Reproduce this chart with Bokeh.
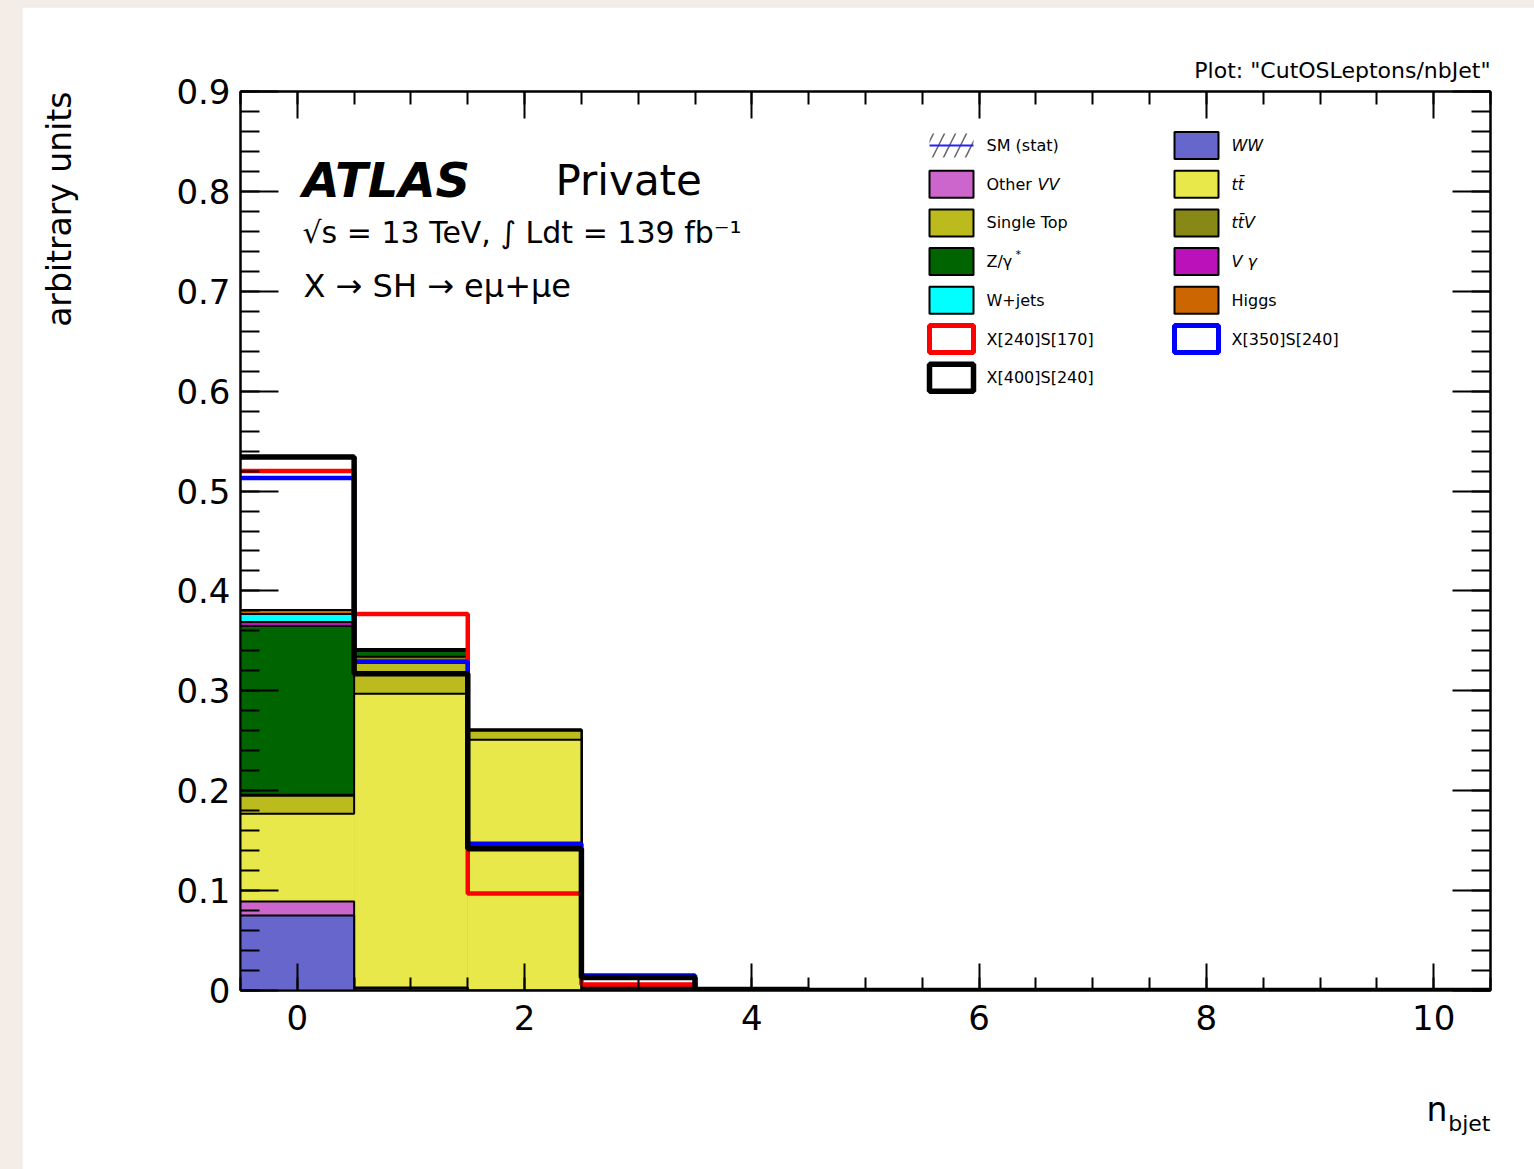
import numpy as np
from bokeh.plotting import figure
from bokeh.models import (Range1d, FixedTicker, LinearAxis, Label, Title,
                          CustomJSTickFormatter, Spacer)
from bokeh.layouts import column, row
from bokeh.embed import file_html
from bokeh.resources import INLINE

# number of b-tagged jets, one bin per integer
nbjet = list(range(11))

# SM backgrounds (normalised, arbitrary units), stacked bottom to top
ww         = [0.075, 0.002, 0.000, 0.000, 0, 0, 0, 0, 0, 0, 0]
other_vv   = [0.014, 0.001, 0.000, 0.000, 0, 0, 0, 0, 0, 0, 0]
ttbar      = [0.088, 0.294, 0.251, 0.002, 0, 0, 0, 0, 0, 0, 0]
single_top = [0.018, 0.033, 0.009, 0.001, 0, 0, 0, 0, 0, 0, 0]
ttv        = [0.001, 0.004, 0.001, 0.000, 0, 0, 0, 0, 0, 0, 0]
z_gamma    = [0.169, 0.006, 0.000, 0.000, 0, 0, 0, 0, 0, 0, 0]
v_gamma    = [0.004, 0.001, 0.000, 0.000, 0, 0, 0, 0, 0, 0, 0]
w_jets     = [0.008, 0.000, 0.000, 0.000, 0, 0, 0, 0, 0, 0, 0]
higgs      = [0.004, 0.001, 0.000, 0.000, 0, 0, 0, 0, 0, 0, 0]

# signal hypotheses (normalised)
sig_x240_s170 = [0.520, 0.377, 0.097, 0.006, 0.000, 0, 0, 0, 0, 0, 0]
sig_x350_s240 = [0.513, 0.329, 0.147, 0.015, 0.001, 0, 0, 0, 0, 0, 0]
sig_x400_s240 = [0.534, 0.317, 0.142, 0.013, 0.001, 0, 0, 0, 0, 0, 0]

stack = [
    ("WW", ww, "#6666cc"),
    ("Other VV", other_vv, "#cc66cc"),
    ("ttbar", ttbar, "#e8e84a"),
    ("Single Top", single_top, "#bbbb1e"),
    ("ttV", ttv, "#888816"),
    ("Z/gamma*", z_gamma, "#006400"),
    ("V gamma", v_gamma, "#bb11bb"),
    ("W+jets", w_jets, "#00ffff"),
    ("Higgs", higgs, "#cc6600"),
]
signals = [
    ("X[240]S[170]", sig_x240_s170, "#ff0000", 4.5),
    ("X[350]S[240]", sig_x350_s240, "#0000ff", 4.5),
    ("X[400]S[240]", sig_x400_s240, "#000000", 5.5),
]

FONT = "DejaVu Sans"

p = figure(width=1512, height=1162,
           x_range=Range1d(-0.5, 10.5), y_range=Range1d(0, 0.9),
           output_backend="svg", toolbar_location=None,
           min_border_left=218, min_border_right=44,
           min_border_top=84, min_border_bottom=179)
p.xgrid.visible = False
p.ygrid.visible = False
p.background_fill_color = "white"
p.border_fill_color = "white"
p.outline_line_color = "black"
p.outline_line_width = 2

xticks = FixedTicker(ticks=list(range(0, 11, 2)),
                     minor_ticks=list(np.round(np.arange(-0.5, 10.51, 0.5), 2)))
yticks = FixedTicker(ticks=list(np.round(np.arange(0, 0.91, 0.1), 2)),
                     minor_ticks=list(np.round(np.arange(0, 0.901, 0.02), 3)))


def style_axis(ax, ticker, major_len, minor_len):
    ax.ticker = ticker
    ax.axis_line_color = "black"
    ax.axis_line_width = 2
    ax.major_tick_in = major_len
    ax.major_tick_out = 0
    ax.minor_tick_in = minor_len
    ax.minor_tick_out = 0
    ax.major_tick_line_width = 2
    ax.minor_tick_line_width = 2
    ax.major_tick_line_color = "black"
    ax.minor_tick_line_color = "black"
    ax.major_label_text_font = FONT
    ax.major_label_text_font_size = "34px"
    ax.major_label_text_color = "black"


def gap_axis(size):
    # a blank axis (white outward tick, no labels) that only reserves
    # room in a side panel between the tick labels and a title
    return LinearAxis(ticker=FixedTicker(ticks=[0], minor_ticks=[]),
                      formatter=CustomJSTickFormatter(code="return ''"),
                      major_tick_out=size, major_tick_in=0,
                      minor_tick_out=0, minor_tick_in=0,
                      major_label_standoff=0,
                      axis_line_color=None, major_tick_line_color="white",
                      minor_tick_line_color=None)


xax = p.xaxis[0]
yax = p.yaxis[0]
style_axis(xax, xticks, 27, 13)
xax.major_label_standoff = 14
style_axis(yax, yticks, 38, 19)
yax.major_label_standoff = 10
yax.major_label_overrides = {0: "0"}

top_ax = LinearAxis(formatter=CustomJSTickFormatter(code="return ''"))
style_axis(top_ax, xticks, 27, 13)
top_ax.major_label_text_font_size = "1px"
top_ax.major_label_standoff = 0
p.add_layout(top_ax, "above")
right_ax = LinearAxis(formatter=CustomJSTickFormatter(code="return ''"))
style_axis(right_ax, yticks, 38, 19)
right_ax.major_label_text_font_size = "1px"
right_ax.major_label_standoff = 0
p.add_layout(right_ax, "right")

# y-axis title, ending at the top of the frame
p.add_layout(gap_axis(95), "left")
p.add_layout(Title(text="arbitrary units", align="right", vertical_align="bottom",
                   text_font=FONT, text_font_size="33px", text_font_style="normal",
                   text_color="black", standoff=0), "left")

# plot name above the frame, right aligned
p.add_layout(Title(text='Plot: "CutOSLeptons/nbJet"', align="right",
                   vertical_align="bottom", text_font=FONT,
                   text_font_size="22px", text_font_style="normal",
                   text_color="black", standoff=18), "above")

# x-axis title n_bjet: "n" plus a lowered, smaller "bjet"
p.add_layout(gap_axis(57), "below")
p.add_layout(Title(text="n", align="right", vertical_align="top", offset=43,
                   text_font=FONT, text_font_size="33px", text_font_style="normal",
                   text_color="black", standoff=0), "below")
p.add_layout(Title(text="bjet", align="right", vertical_align="top", offset=0,
                   text_font=FONT, text_font_size="22px", text_font_style="normal",
                   text_color="black", standoff=-40), "below")


def step_path(vals):
    edges = np.arange(len(vals) + 1) - 0.5
    xs = np.repeat(edges, 2)[1:-1]
    ys = np.repeat(np.asarray(vals, dtype=float), 2)
    return xs, ys


edges = np.arange(len(nbjet) + 1) - 0.5
cums = np.cumsum(np.array([s[1] for s in stack], dtype=float), axis=0)

# draw the stack from the top layer down, each layer with its outline
for k in range(len(stack) - 1, -1, -1):
    name, vals, col = stack[k]
    top = cums[k]
    p.quad(left=edges[:-1], right=edges[1:], bottom=0, top=top,
           fill_color=col, line_color=None)
    xs, ys = step_path(top)
    p.line(xs, ys, line_color="black", line_width=2)

for name, vals, col, lw in signals:
    xs, ys = step_path(vals)
    p.line(xs, ys, line_color=col, line_width=lw)

# ---- helpers to place annotations inside the frame by page pixel ----
FL, FR, FT, FB = 240.0, 1490.0, 91.0, 990.0


def dx(xp):
    return -0.5 + (xp - FL) * 11.0 / (FR - FL)


def dy(yp):
    return 0.9 * (FB - yp) / (FB - FT)


def text(xp, yp, s, size, style="normal", align="left", baseline="middle"):
    p.add_layout(Label(x=dx(xp), y=dy(yp), text=s, text_font=FONT,
                       text_font_size=f"{size}px", text_font_style=style,
                       text_align=align, text_baseline=baseline,
                       text_color="black"))


# ---- legend ----
row_c = [145 + 38.7 * i for i in range(7)]
c1_box, c1_txt = (929, 973), 986
c2_box, c2_txt = (1174, 1218), 1231
half_h = 13.5


def legend_box(box, yc, fill, line, lw):
    p.quad(left=[dx(box[0])], right=[dx(box[1])],
           bottom=[dy(yc + half_h)], top=[dy(yc - half_h)],
           fill_color=fill, line_color=line, line_width=lw)


# SM (stat): hatched band with the blue central line
p.quad(left=[dx(c1_box[0])], right=[dx(c1_box[1])],
       bottom=[dy(row_c[0] + 12)], top=[dy(row_c[0] - 12)],
       fill_color=None, line_color=None,
       hatch_pattern="/", hatch_color="#666666", hatch_scale=22, hatch_weight=1.5)
p.line([dx(c1_box[0]), dx(c1_box[1])], [dy(row_c[0]), dy(row_c[0])],
       line_color="#2222ff", line_width=2)
text(c1_txt, row_c[0], "SM (stat)", 16)

colour = {s[0]: s[2] for s in stack}
legend_box(c2_box, row_c[0], colour["WW"], "black", 2)
text(c2_txt, row_c[0], "WW", 16, style="italic")

legend_box(c1_box, row_c[1], colour["Other VV"], "black", 2)
text(c1_txt, row_c[1], "Other", 16)
text(1037, row_c[1], "VV", 16, style="italic")
legend_box(c2_box, row_c[1], colour["ttbar"], "black", 2)
text(c2_txt, row_c[1], "tt\u0304", 16, style="italic")

legend_box(c1_box, row_c[2], colour["Single Top"], "black", 2)
text(c1_txt, row_c[2], "Single Top", 16)
legend_box(c2_box, row_c[2], colour["ttV"], "black", 2)
text(c2_txt, row_c[2], "tt\u0304V", 16, style="italic")

legend_box(c1_box, row_c[3], colour["Z/gamma*"], "black", 2)
text(c1_txt, row_c[3], "Z/\u03b3", 16)
text(1015, row_c[3] - 7, "*", 11)
legend_box(c2_box, row_c[3], colour["V gamma"], "black", 2)
text(c2_txt, row_c[3], "V \u03b3", 16, style="italic")

legend_box(c1_box, row_c[4], colour["W+jets"], "black", 2)
text(c1_txt, row_c[4], "W+jets", 16)
legend_box(c2_box, row_c[4], colour["Higgs"], "black", 2)
text(c2_txt, row_c[4], "Higgs", 16)

sig_col = {s[0]: s[2] for s in signals}
legend_box(c1_box, row_c[5], "white", sig_col["X[240]S[170]"], 5)
text(c1_txt, row_c[5], "X[240]S[170]", 16)
legend_box(c2_box, row_c[5], "white", sig_col["X[350]S[240]"], 5)
text(c2_txt, row_c[5], "X[350]S[240]", 16)
legend_box(c1_box, row_c[6], "white", sig_col["X[400]S[240]"], 5.5)
text(c1_txt, row_c[6], "X[400]S[240]", 16)

# ---- labels inside the frame ----
text(302, 179, "ATLAS", 48, style="bold italic")
text(555, 180, "Private", 42)
text(302, 232, "\u221as = 13 TeV, \u222b Ldt = 139 fb\u207b\u00b9", 30)
text(303, 285, "X \u2192 SH \u2192 e\u03bc+\u03bce", 32)

page = column(Spacer(height=7), row(Spacer(width=22), p),
              styles={"background-color": "#f4ece6"})

open("out.html", "w").write(file_html(page, INLINE))
